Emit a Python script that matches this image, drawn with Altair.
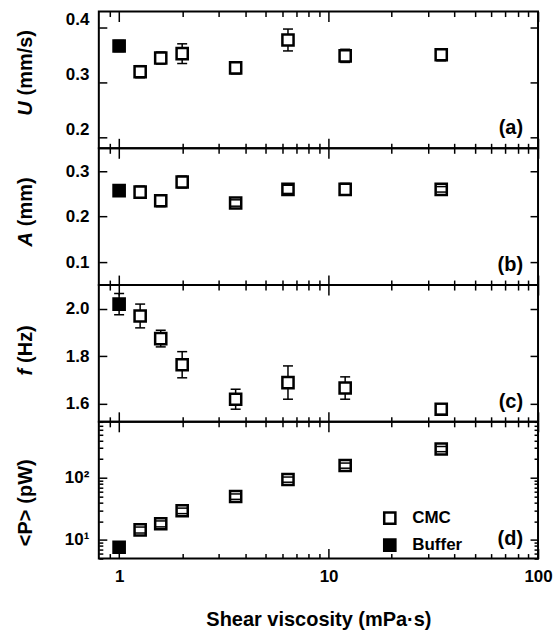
import altair as alt
import pandas as pd

# Shear viscosity (mPa·s) of each medium and which medium it is
visc = [1.0, 1.26, 1.58, 2.0, 3.6, 6.4, 12.0, 34.5]
medium = ["Buffer", "CMC", "CMC", "CMC", "CMC", "CMC", "CMC", "CMC"]

# (a) swimming speed U (mm/s)
speed = [0.367, 0.320, 0.345, 0.353, 0.327, 0.378, 0.349, 0.351]
speed_err = [0.010, 0.011, 0.011, 0.018, 0.011, 0.020, 0.012, 0.011]
# (b) amplitude A (mm)
amp = [0.257, 0.254, 0.235, 0.276, 0.230, 0.260, 0.260, 0.260]
amp_err = [0.010, 0.013, 0.013, 0.013, 0.007, 0.009, 0.013, 0.006]
# (c) beat frequency f (Hz)
freq = [2.020, 1.970, 1.875, 1.765, 1.620, 1.690, 1.667, 1.578]
freq_err = [0.045, 0.050, 0.035, 0.055, 0.042, 0.070, 0.047, 0.022]
# (d) mean power <P> (pW)
power = [7.6, 14.5, 18.2, 29.5, 50.0, 94.0, 158.0, 292.0]
power_err = [0.6, 1.6, 2.0, 3.0, 5.0, 9.0, 15.0, 28.0]

W, H = 440, 137
FONT = "Liberation Sans"

x_major = [1, 10, 100]
x_all = [0.9, 1, 2, 3, 4, 5, 6, 7, 8, 9, 10, 20, 30, 40, 50, 60, 70, 80, 90, 100]
x_scale = alt.Scale(type="log", domain=[0.8, 100], nice=False)
fill_scale = alt.Scale(domain=["CMC", "Buffer"], range=["white", "black"])


def sized(test, major, minor):
    return {"condition": {"test": test, "value": major}, "value": minor}


X_TICK = sized("indexof([1, 10, 100], datum.value) >= 0", 10, 5)


def x_tick_axis(orient):
    # inward ticks: the axis is pushed across the plot so its outward ticks land inside
    return alt.Axis(orient=orient, offset=-H, values=x_all, labels=False, domain=False,
                    title=None, tickSize=X_TICK, tickWidth=1.5, tickColor="black")


def y_tick_axis(orient, values, size):
    return alt.Axis(orient=orient, offset=-W, values=values, labels=False, domain=False,
                    title=None, tickSize=size, tickWidth=1.5, tickColor="black")


def panel(values, errors, y_type, y_domain, y_major, y_ticks, y_size, letter,
          title_parts, title_y, label_offset=0, label_expr=None, fmt=".1f",
          bottom=False):
    df = pd.DataFrame({
        "visc": visc,
        "medium": medium,
        "val": values,
        "lo": [v - e for v, e in zip(values, errors)],
        "hi": [v + e for v, e in zip(values, errors)],
    })
    y_scale = alt.Scale(type=y_type, domain=y_domain, nice=False)

    label_kw = dict(orient="left", values=y_major, ticks=False, tickSize=0, domain=False,
                    title=None, labelPadding=10, labelOffset=label_offset, format=fmt)
    if label_expr:
        label_kw["labelExpr"] = label_expr
    y_label_axis = alt.Axis(**label_kw)

    if bottom:
        x_label_axis = alt.Axis(orient="bottom", values=x_major, ticks=False, tickSize=0,
                                domain=False, format="d", labelPadding=10, labelFlush=False,
                                title="Shear viscosity (mPa·s)", titlePadding=25,
                                titleFontSize=20, titleFontWeight="bold")
        legend = alt.Legend(orient="none", legendX=283, legendY=88, title=None,
                            symbolType="square", symbolSize=125, symbolStrokeColor="black",
                            symbolStrokeWidth=2.5, labelFontSize=17, labelFontWeight="bold",
                            labelFont=FONT, labelOffset=14, rowPadding=4, padding=0)
    else:
        x_label_axis = None
        legend = None

    base = alt.Chart(df)
    bars = base.mark_rule(color="black", strokeWidth=1.5).encode(
        x=alt.X("visc:Q", scale=x_scale, axis=x_tick_axis("bottom")),
        y=alt.Y("lo:Q", scale=y_scale, axis=y_label_axis),
        y2="hi:Q",
    )
    squares = base.mark_square(size=125, stroke="black", strokeWidth=2.5, opacity=1).encode(
        x=alt.X("visc:Q", scale=x_scale, axis=x_label_axis),
        y=alt.Y("val:Q", scale=y_scale, axis=y_tick_axis("left", y_ticks, y_size)),
        fill=alt.Fill("medium:N", scale=fill_scale, legend=legend),
    )
    cap_lo = base.mark_tick(orient="horizontal", size=10, thickness=1.5, color="black",
                            opacity=1).encode(
        x=alt.X("visc:Q", scale=x_scale, axis=x_tick_axis("top")),
        y=alt.Y("lo:Q", scale=y_scale, axis=y_tick_axis("right", y_ticks, y_size)),
    )
    cap_hi = base.mark_tick(orient="horizontal", size=10, thickness=1.5, color="black",
                            opacity=1).encode(
        x=alt.X("visc:Q", scale=x_scale, axis=None),
        y=alt.Y("hi:Q", scale=y_scale, axis=None),
    )

    # rotated y title: first part reads up to the anchor, the unit continues above it
    texts = []
    for i, (txt, style) in enumerate(title_parts):
        texts.append(
            alt.Chart(pd.DataFrame({"t": [txt]})).mark_text(
                angle=270, align="right" if i == 0 else "left", baseline="middle",
                dx=0 if i == 0 else 6,
                fontSize=20, fontWeight="bold", fontStyle=style, font=FONT, color="black",
            ).encode(text="t:N", x=alt.value(-73), y=alt.value(title_y))
        )
    tag = alt.Chart(pd.DataFrame({"t": [letter]})).mark_text(
        align="right", baseline="middle", fontSize=20, fontWeight="bold", font=FONT,
        color="black",
    ).encode(text="t:N", x=alt.value(W - 15), y=alt.value(117))

    return alt.layer(bars, squares, cap_lo, cap_hi, *texts, tag).resolve_axis(
        x="independent", y="independent"
    ).properties(width=W, height=H)


pa = panel(speed, speed_err, "linear", [0.18, 0.43], [0.2, 0.3, 0.4], [0.2, 0.3, 0.4], 8,
           "(a)", [("U", "italic"), ("(mm/s)", "normal")], 90, label_offset=-8)
pb = panel(amp, amp_err, "linear", [0.05, 0.35], [0.1, 0.2, 0.3], [0.1, 0.2, 0.3], 8,
           "(b)", [("A", "italic"), ("(mm)", "normal")], 84)
pc = panel(freq, freq_err, "linear", [1.525, 2.1], [1.6, 1.8, 2.0], [1.6, 1.8, 2.0], 8,
           "(c)", [("f", "italic"), ("(Hz)", "normal")], 84)
y_log_ticks = [5, 6, 7, 8, 9, 10, 20, 30, 40, 50, 60, 70, 80, 90, 100,
               200, 300, 400, 500, 600, 700, 800]
pd_ = panel(power, power_err, "log", [5, 800], [10, 100], y_log_ticks,
            sized("indexof([10, 100], datum.value) >= 0", 8, 4),
            "(d)", [("<P>", "normal"), ("(pW)", "normal")], 88,
            label_expr="datum.value == 10 ? '10¹' : '10²'", fmt="d", bottom=True)

chart = alt.vconcat(pa, pb, pc, pd_, spacing=0, bounds="flush").resolve_legend(
    fill="independent"
).properties(
    padding={"left": 15, "top": 9, "right": 0, "bottom": 0}
).configure(
    font=FONT
).configure_view(
    stroke="black", strokeWidth=2
).configure_axis(
    grid=False, labelFont=FONT, labelFontSize=17, labelFontWeight="bold",
    labelColor="black", titleColor="black", titleFont=FONT,
)

chart.save("out.html", embed_options={"renderer": "svg", "actions": False})
